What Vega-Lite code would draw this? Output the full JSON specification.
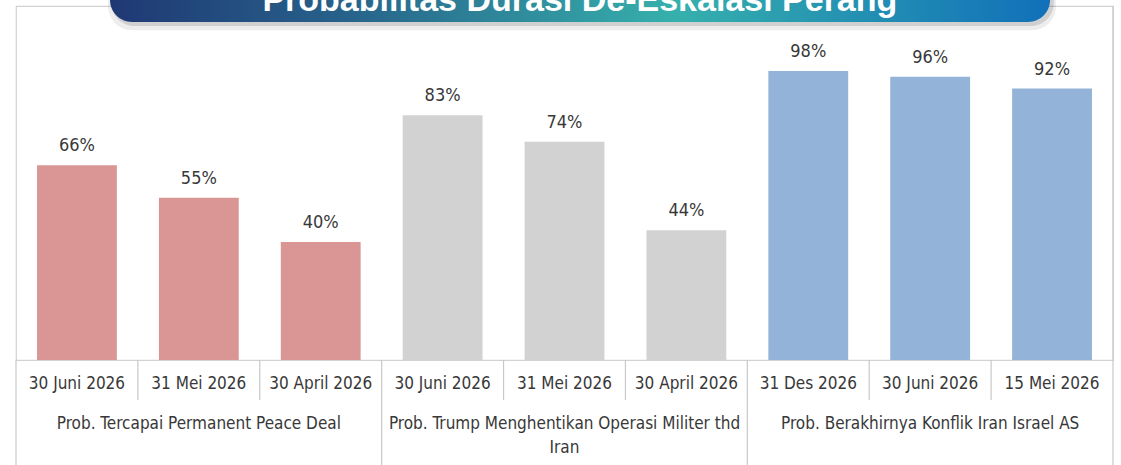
{
  "$schema": "https://vega.github.io/schema/vega-lite/v6.json",
  "width": 1097,
  "height": 354,
  "autosize": {"type": "none"},
  "padding": {"left": 16, "top": 6, "right": 8, "bottom": 105},
  "background": "white",
  "config": {
    "view": {"stroke": "#d2d2d2", "strokeWidth": 1.2},
    "font": "Liberation Sans Narrow, DejaVu Sans Condensed, Roboto, sans-serif"
  },
  "resolve": {"scale": {"x": "independent"}},
  "layer": [
    {
      "data": {
        "values": [
          {"cat": "30 Juni 2026|1", "group": "Prob. Tercapai Permanent Peace Deal", "g": "A", "value": 0.66, "pos": 1},
          {"cat": "31 Mei 2026|2", "group": "Prob. Tercapai Permanent Peace Deal", "g": "A", "value": 0.55, "pos": 2},
          {"cat": "30 April 2026|3", "group": "Prob. Tercapai Permanent Peace Deal", "g": "A", "value": 0.40, "pos": 3},
          {"cat": "30 Juni 2026|4", "group": "Prob. Trump Menghentikan Operasi Militer thd\nIran", "g": "B", "value": 0.83, "pos": 1},
          {"cat": "31 Mei 2026|5", "group": "Prob. Trump Menghentikan Operasi Militer thd\nIran", "g": "B", "value": 0.74, "pos": 2},
          {"cat": "30 April 2026|6", "group": "Prob. Trump Menghentikan Operasi Militer thd\nIran", "g": "B", "value": 0.44, "pos": 3},
          {"cat": "31 Des 2026|7", "group": "Prob. Berakhirnya Konflik Iran Israel AS", "g": "C", "value": 0.98, "pos": 1},
          {"cat": "30 Juni 2026|8", "group": "Prob. Berakhirnya Konflik Iran Israel AS", "g": "C", "value": 0.96, "pos": 2},
          {"cat": "15 Mei 2026|9", "group": "Prob. Berakhirnya Konflik Iran Israel AS", "g": "C", "value": 0.92, "pos": 3}
        ]
      },
      "layer": [
        {
          "mark": {"type": "bar"},
          "encoding": {
            "x": {
              "field": "cat", "type": "nominal",
              "scale": {
                "type": "band", "paddingInner": 0.345, "paddingOuter": 0.1725,
                "domain": ["30 Juni 2026|1", "31 Mei 2026|2", "30 April 2026|3", "30 Juni 2026|4", "31 Mei 2026|5", "30 April 2026|6", "31 Des 2026|7", "30 Juni 2026|8", "15 Mei 2026|9"]
              },
              "axis": {
                "title": null, "labelExpr": "split(datum.label, '|')[0]",
                "ticks": false, "domain": false, "labelAngle": 0,
                "labelPadding": 15, "labelFontSize": 17, "labelColor": "#383838",
                "labelFont": "Liberation Sans Narrow, DejaVu Sans Condensed, Roboto, sans-serif"
              }
            },
            "y": {"field": "value", "type": "quantitative", "scale": {"domain": [0, 1.2], "nice": false}, "axis": null},
            "color": {
              "field": "g", "type": "nominal",
              "scale": {"domain": ["A", "B", "C"], "range": ["#d99694", "#d2d2d2", "#93b3d8"]},
              "legend": null
            }
          }
        },
        {
          "mark": {"type": "text", "dy": -14, "baseline": "alphabetic", "fontSize": 18, "color": "#383838"},
          "encoding": {
            "x": {"field": "cat", "type": "nominal", "sort": null},
            "y": {"field": "value", "type": "quantitative"},
            "text": {"field": "value", "type": "quantitative", "format": ".0%"}
          }
        },
        {
          "transform": [{"filter": "datum.pos > 1"}],
          "mark": {"type": "rule", "color": "#c8c8c8", "strokeWidth": 1.2},
          "encoding": {
            "x": {"field": "cat", "type": "nominal", "sort": null, "bandPosition": -0.2634},
            "y": {"datum": 0},
            "y2": {"datum": -0.136}
          }
        },
        {
          "transform": [{"filter": "datum.pos == 1"}],
          "mark": {"type": "rule", "color": "#c8c8c8", "strokeWidth": 1.2},
          "encoding": {
            "x": {"field": "cat", "type": "nominal", "sort": null, "bandPosition": -0.2634},
            "y": {"datum": 0},
            "y2": {"datum": -0.4}
          }
        },
        {
          "transform": [{"filter": "datum.cat == '15 Mei 2026|9'"}],
          "mark": {"type": "rule", "color": "#c8c8c8", "strokeWidth": 1.2},
          "encoding": {
            "x": {"field": "cat", "type": "nominal", "sort": null, "bandPosition": 1.2634},
            "y": {"datum": 1.2},
            "y2": {"datum": -0.4}
          }
        },
        {
          "transform": [{"filter": "datum.pos == 2"}],
          "mark": {"type": "text", "baseline": "top", "fontSize": 17, "lineBreak": "\n", "lineHeight": 24, "color": "#383838"},
          "encoding": {
            "x": {"field": "cat", "type": "nominal", "sort": null},
            "y": {"datum": -0.19},
            "text": {"field": "group"}
          }
        }
      ]
    },
    {
      "data": {"values": [{"title": "Probabilitas Durasi De-Eskalasi Perang"}]},
      "layer": [
        {
          "mark": {"type": "rect", "cornerRadius": 24, "color": "#000000", "opacity": 0.07},
          "encoding": {
            "x": {"datum": 0.084, "type": "quantitative", "scale": {"domain": [0, 1]}, "axis": null},
            "x2": {"datum": 0.948},
            "y": {"datum": 1.118},
            "y2": {"datum": 1.33}
          }
        },
        {
          "mark": {"type": "rect", "cornerRadius": 23, "color": "#000000", "opacity": 0.12},
          "encoding": {
            "x": {"datum": 0.087, "type": "quantitative"},
            "x2": {"datum": 0.946},
            "y": {"datum": 1.132},
            "y2": {"datum": 1.33}
          }
        },
        {
          "mark": {
            "type": "rect", "cornerRadius": 22,
            "fill": {
              "gradient": "linear", "x1": 0, "y1": 0, "x2": 1, "y2": 0,
              "stops": [
                {"offset": 0, "color": "#1f3874"},
                {"offset": 0.25, "color": "#27628a"},
                {"offset": 0.6, "color": "#36b0ac"},
                {"offset": 1, "color": "#1170b9"}
              ]
            }
          },
          "encoding": {
            "x": {"datum": 0.0857, "type": "quantitative"},
            "x2": {"datum": 0.9426},
            "y": {"datum": 1.1458},
            "y2": {"datum": 1.33}
          }
        },
        {
          "mark": {"type": "text", "baseline": "alphabetic", "fontSize": 34, "fontWeight": "bold", "color": "white", "font": "Liberation Sans, Arial, sans-serif"},
          "encoding": {
            "x": {"datum": 0.514, "type": "quantitative"},
            "y": {"datum": 1.183},
            "text": {"field": "title"}
          }
        }
      ]
    }
  ]
}
